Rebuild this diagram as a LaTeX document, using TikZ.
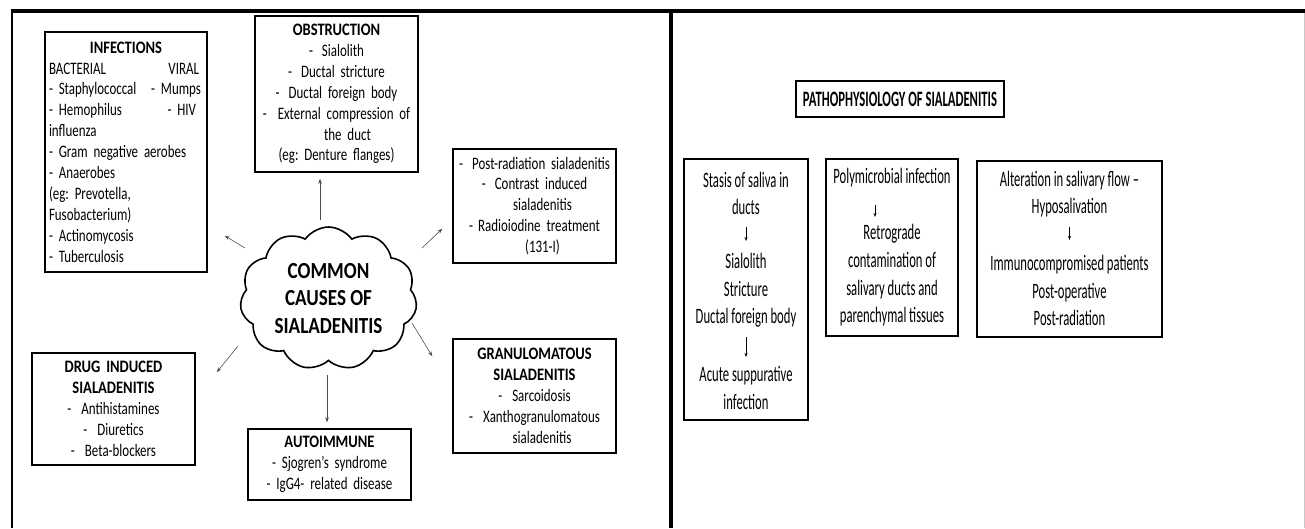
\documentclass[tikz,border=0pt]{standalone}
\usepackage{fontspec}
\setmainfont{Carlito}
\newfontfamily\lf{Carlito}[FakeStretch=0.74, BoldFeatures={FakeStretch=0.83}]
\newfontfamily\rf{Carlito}[FakeStretch=0.575]
\usetikzlibrary{shapes.symbols,arrows.meta,calc}
\frenchspacing
\tikzset{
  lbox/.style={draw, line width=1.5pt, inner sep=0pt, align=center,
    font=\lf\fontsize{17.5}{20.9}\selectfont},
  rbox/.style={draw, line width=1.5pt, inner sep=0pt},
  rtxt/.style={inner sep=0pt, align=center, font=\rf\fontsize{22}{27.7}\selectfont},
  arr/.style={-{Stealth[length=5pt,width=3.6pt]}, line width=0.5pt, draw=black!70, fill=black!70},
  sarr/.style={-{Stealth[length=4pt,width=3pt]}, line width=0.6pt},
}
\begin{document}
\begin{tikzpicture}[x=1pt,y=-1pt]
\useasboundingbox (0,0) rectangle (1305,528);
\fill[white] (0,0) rectangle (1305,528);
% frame
\draw[line width=4pt] (10.7,10.5) -- (1305,10.5);
\draw[line width=2pt] (11.7,9) -- (11.7,528);
\draw[line width=4pt] (671,9) -- (671,528);
\draw[black!22, line width=1pt] (1304.5,12.5) -- (1304.5,528);

% ---------- left panel ----------
\node[lbox, minimum width=162pt, minimum height=240pt, text width=154pt, align=left] (inf) at (126,152) {%
\makebox[\linewidth]{\bfseries INFECTIONS}\\
\makebox[\linewidth][s]{BACTERIAL\hfill VIRAL\hspace*{4pt}}\\
\makebox[\linewidth][s]{- Staphylococcal\hfill - Mumps\hspace*{2pt}}\\
\makebox[\linewidth][s]{- Hemophilus\hfill - HIV\hspace*{7pt}}\\
influenza\\
- Gram negative aerobes\\
- Anaerobes\\
(eg: Prevotella,\\
Fusobacterium)\\
- Actinomycosis\\
- Tuberculosis};

\node[lbox, minimum width=163pt, minimum height=156pt, text width=160pt] (obs) at (336.5,94) {%
{\bfseries OBSTRUCTION}\\
-\hspace{9pt}Sialolith\\
-\hspace{9pt}Ductal stricture\\
-\hspace{9pt}Ductal foreign body\\
-\hspace{11pt}External compression of\\
\hspace*{22pt}the duct\\
(eg: Denture flanges)};

\node[lbox, minimum width=163pt, minimum height=114pt, text width=160pt] (rad) at (534.5,206) {%
-\hspace{9pt}Post-radiation sialadenitis\\
-\hspace{9pt}Contrast induced\\
\hspace*{16pt}sialadenitis\\
-\hspace{5pt}Radioiodine treatment\\
\hspace*{16pt}(131-I)};

\node[lbox, minimum width=163pt, minimum height=112pt, text width=160pt] (drug) at (113.5,409) {%
{\bfseries DRUG INDUCED}\\
{\bfseries SIALADENITIS}\\
-\hspace{10pt}Antihistamines\\
-\hspace{10pt}Diuretics\\
-\hspace{10pt}Beta-blockers};

\node[lbox, minimum width=163pt, minimum height=71pt, text width=160pt] (auto) at (329.5,464.5) {%
{\bfseries AUTOIMMUNE}\\
- Sjogren’s syndrome\\
- IgG4- related disease};

\node[lbox, minimum width=163pt, minimum height=114pt, text width=160pt] (gran) at (534.5,396) {%
{\bfseries GRANULOMATOUS}\\
{\bfseries SIALADENITIS}\\
-\hspace{10pt}Sarcoidosis\\
-\hspace{10pt}Xanthogranulomatous\\
\hspace*{15pt}sialadenitis};

\node[cloud, draw, line width=1.6pt, cloud puffs=11, cloud puff arc=110, aspect=1.24,
  minimum width=177pt, minimum height=143pt, inner sep=0pt, align=center,
  font=\lf\bfseries\fontsize{23}{27.5}\selectfont] (cloud) at (328.5,298.5)
  {COMMON\\CAUSES OF\\SIALADENITIS};

\draw[arr] ([shift={(-8.5,-78.5)}]cloud.center) -- ([shift={(-16.5,6)}]obs.south);
\draw[arr] ([shift={(-83.5,-50.5)}]cloud.center) -- ([shift={(17,-37)}]inf.south east);
\draw[arr] ([shift={(93.5,-50.5)}]cloud.center) -- ([shift={(-10,-35)}]rad.south west);
\draw[arr] ([shift={(-90.5,47.5)}]cloud.center) -- ([shift={(21,20)}]drug.north east);
\draw[arr] ([shift={(-1.5,76.5)}]cloud.center) -- ([shift={(-2.5,-6)}]auto.north);
\draw[arr] ([shift={(83.5,24.5)}]cloud.center) -- ([shift={(-20,18)}]gran.north west);

% ---------- right panel ----------
\node[rbox, minimum width=208pt, minimum height=36pt,
  font=\rf\bfseries\fontsize{22}{26}\selectfont] (title) at (900,99) {PATHOPHYSIOLOGY OF SIALADENITIS};

\node[rbox, minimum width=124pt, minimum height=261pt] (b1) at (746,289.5) {};
\node[rtxt] (s1) at (746,193.5) {Stasis of saliva in\\ducts};
\node[rtxt] (s2) at (746,290.5) {Sialolith\\Stricture\\Ductal foreign body};
\node[rtxt] (s3) at (746,388) {Acute suppurative\\infection};
\draw[sarr] ([shift={(0,33.5)}]s1.center) -- ([shift={(0,-49.5)}]s2.center);
\draw[sarr] ([shift={(0,46.5)}]s2.center) -- ([shift={(0,-31)}]s3.center);

\node[rbox, minimum width=132pt, minimum height=177pt] (b2) at (892,247.5) {};
\node[rtxt] (p1) at (892,178) {Polymicrobial infection};
\node[rtxt] (p2) at (892,275.5) {Retrograde\\contamination of\\salivary ducts and\\parenchymal tissues};
\draw[sarr] ([shift={(-17,27)}]p1.center) -- ([shift={(-17,-58.5)}]p2.center);

\node[rbox, minimum width=185pt, minimum height=176pt] (b3) at (1069.5,249) {};
\node[rtxt] (q1) at (1069.5,194) {Alteration in salivary flow –\\Hyposalivation};
\node[rtxt] (q2) at (1069.5,290.5) {Immunocompromised patients\\Post-operative\\Post-radiation};
\draw[sarr] ([shift={(0,33)}]q1.center) -- ([shift={(0,-50.5)}]q2.center);
\end{tikzpicture}
\end{document}
